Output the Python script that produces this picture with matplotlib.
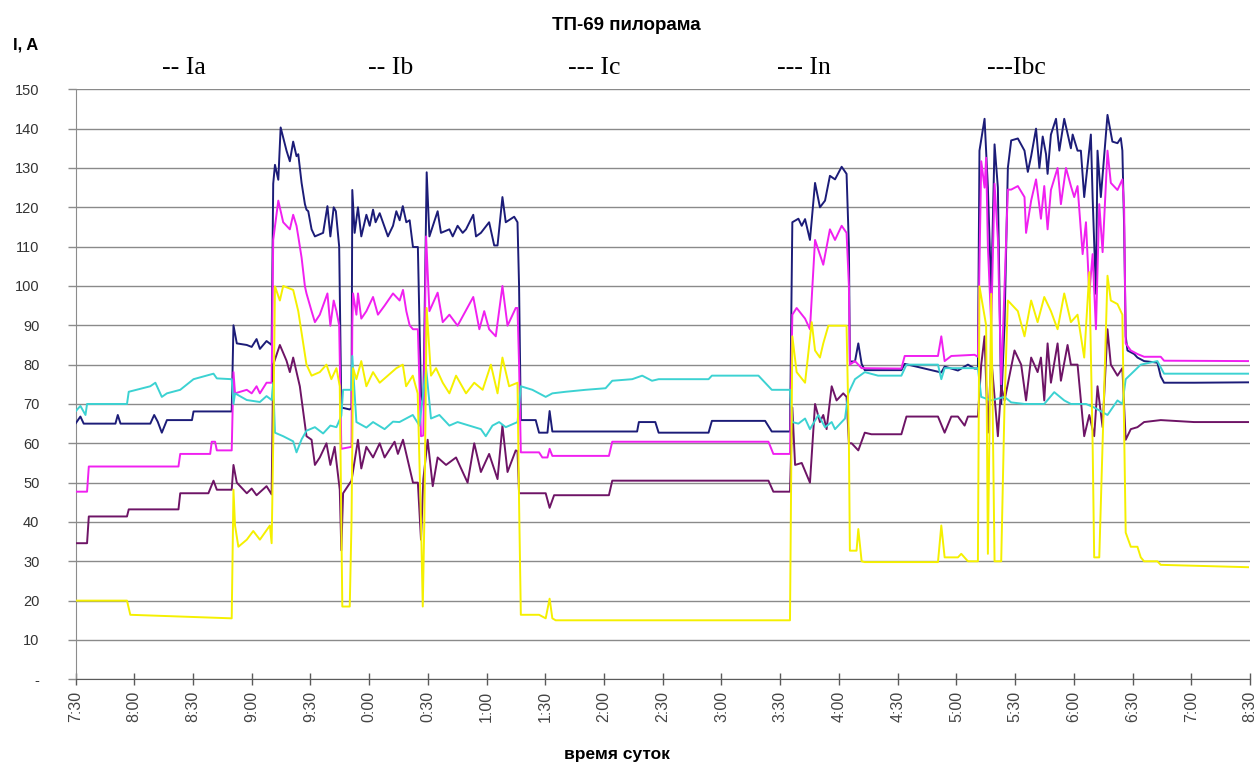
import matplotlib
matplotlib.use("Agg")
import matplotlib.pyplot as plt
from matplotlib.transforms import Bbox, TransformedBbox

# time in minutes after 7:30, current in A

t_ia = [0, 2.5, 4.2, 20.4, 21.6, 23, 38.2, 40.2, 42, 44.1, 46.7, 59.5, 60.3, 79.8, 80.7, 82.4, 87.5, 90, 92.5, 94.2,
        97.6, 100.2, 101, 101.9, 103.6, 104.8, 107.8, 109.5, 111.2, 112.9, 113.8, 115.5, 117.2, 118, 118.9, 120.6,
        122.3, 126.5, 128.7, 130.2, 131.9, 133, 134.7, 135.8, 140.1, 141, 141.4, 142.6, 144.3, 146, 148.6, 150.3,
        152, 153.3, 155.4, 159.6, 162.2, 163.9, 165.6, 167.2, 169, 170.7, 172.4, 174.9, 176.5, 177.7, 179.4, 180.8,
        185, 186.7, 191, 192.7, 195.2, 197.8, 199.5, 203.2, 204.6, 207.1, 211.3, 213.9, 215.6, 218.1, 219.8, 224.1,
        225.8, 226.6, 227.5, 235.1, 236.8, 241.1, 242.2, 243.6, 286.9, 287.8, 296.2, 297.9, 323.4, 325.1, 352.3,
        355.7, 365, 366.2, 369.3, 371, 372.7, 375.2, 377.8, 380.3, 382.9, 385.4, 388, 391.4, 393.9, 395.1, 395.6,
        398.2, 399.9, 401.6, 403.2, 421.9, 423.6, 442.3, 444, 450.8, 455.9, 459.3, 461, 461.8, 464.4, 466.1, 467.8,
        469.5, 471.2, 472.9, 474.6, 476.3, 478, 481.4, 484.8, 486.5, 488.2, 490.7, 492.4, 494.1, 495.8, 496.6,
        498.3, 500.9, 502.6, 505.1, 508.5, 509.4, 511.9, 513.6, 515.3, 518.7, 519.6, 521.3, 522.1, 523.8, 527.2,
        529.7, 532.3, 534, 534.8, 535.7, 536.5, 537.4, 540.8, 542.5, 545.9, 552.7, 554.4, 556.1, 571.4, 599]
ia = [65, 66.8, 65, 65, 67.2, 65, 65, 67.2, 65.5, 62.7, 65.9, 65.9, 68.1, 68.1, 90, 85.4, 85, 84.5, 86.5, 84,
      86, 85, 126, 130.8, 127, 140.3, 134.4, 131.7, 136.7, 133, 133.5, 126.2, 120.8, 119.4, 119, 114.4,
      112.6, 113.5, 120.3, 112.6, 120, 119, 110, 69.1, 68.6, 69, 124.4, 113.5, 120, 112.6, 118.1, 115.3,
      119.4, 116.2, 118.5, 112.6, 115.3, 119, 116.7, 120.3, 116.2, 116.7, 109.9, 109.9, 72, 70, 128.9, 112.6,
      119, 113.5, 114.4, 112.6, 115.3, 113.5, 114.4, 118.1, 112.6, 113.5, 116.2, 110.3, 110.3, 122.6, 116.2, 117.6,
      116.2, 100, 65.9, 65.9, 62.7, 62.7, 68.2, 63, 63, 65.4, 65.4, 62.7, 62.7, 65.7, 65.7,
      63, 63, 116.2, 117.1, 115.3, 117, 111.7, 126.2, 120, 121.7, 128, 127.1, 130.3, 128.5, 110, 80.8,
      80.8, 85.4, 80.2, 78.6, 78.6, 80.2, 78, 79.5, 78.5, 80, 79, 79, 134.4, 142.5, 125, 98,
      136, 125, 70, 90, 130, 137, 137.5, 134.4, 129, 133, 140, 130, 138, 133.5, 128.5,
      138.5, 142.5, 134.4, 142.5, 135, 138.5, 134.4, 134.4, 122.6, 138.5, 122.6, 98, 134.4, 122.6, 143.5,
      136.7, 136.3, 137.6, 134.4, 115, 87.2, 83.6, 82.7, 81.8, 80.9, 80.5, 77, 75.4, 75.4, 75.5]

t_ib = [0, 5.9, 6.8, 52.6, 53.5, 68.8, 69.6, 71.3, 72.2, 79.8, 80.7, 81.5, 87.5, 90, 92.5, 94.2, 97.6, 100.2, 101,
        103.6, 106.1, 109.5, 111.2, 112.9, 113.8, 115.5, 117.2, 118, 120.6, 122.3, 124.8, 128.7, 130.2, 131.9, 133.3,
        134.7, 135.8, 141, 141.4, 141.8, 143.5, 144.3, 146, 148.6, 152, 154.5, 157.9, 162.2, 165.6, 167.3, 169,
        170.7, 172.4, 174.9, 176.5, 177.7, 179.1, 180.8, 185, 187.6, 191, 195.2, 203.2, 206.3, 208.8, 211.3, 214.7,
        218.1, 220.7, 224.9, 225.8, 226.6, 227.5, 236.8, 238.5, 241.1, 242.2, 243.6, 272.5, 274.2, 354, 356.5, 365,
        366.2, 368.4, 372.7, 375.2, 377.8, 382, 385.4, 388, 391.4, 393.9, 395.1, 395.6, 398.2, 401.6, 421.9, 423.6,
        440.6, 442.3, 444, 447.4, 459.3, 461, 462.7, 464.4, 465.2, 466.1, 467.8, 469.5, 471.2, 472.9, 474.6, 476.3,
        478, 481.4, 484.8, 485.6, 488.2, 490.7, 493.2, 494.9, 496.6, 498.3, 501.7, 503.4, 506, 508.5, 510.2, 511.9,
        514.5, 516.2, 517.9, 519.6, 521.3, 523, 524.7, 527.2, 528.9, 532.3, 534.8, 535.7, 536.5, 539.1, 542.5,
        545.9, 554.4, 556.1, 599]
ib = [47.7, 47.7, 54.1, 54.1, 57.3, 57.3, 60.4, 60.4, 58.2, 58.2, 78.1, 72.7, 73.6, 72.7, 74.5, 72.7, 75.4, 75.4, 111.7,
      121.7, 116.2, 114.4, 118.1, 115.3, 112.6, 107.2, 99.9, 98.1, 93.6, 90.8, 92.7, 98.1, 89.9, 96.3, 93.6,
      90, 58.6, 59.1, 90, 98.1, 92.7, 98.1, 91.7, 93.6, 97.2, 92.7, 95, 98.1, 96.3, 99, 93.6,
      90, 89, 89, 61.8, 62, 112.6, 93.6, 98.3, 90.8, 92.7, 89.9, 97.2, 89, 93.6, 89, 87.2,
      100, 89.9, 94.4, 94.4, 80, 57.7, 57.7, 56.4, 56.4, 58.6, 56.8, 56.8, 60.4, 60.4, 57.3, 57.3,
      92.7, 94.4, 91.7, 89, 111.7, 105.4, 114.4, 111.7, 115.3, 113.5, 100, 80, 80.9, 79.1, 79, 82.2,
      82.2, 87.2, 80.9, 82.2, 82.5, 82, 131.7, 125, 132.6, 110, 90, 126, 112, 75, 100, 124.5,
      124.5, 125.4, 122.6, 113.5, 121.7, 127.1, 117.1, 125.4, 114.4, 124.4, 130, 120.8, 130, 125.4, 122.6, 125.4,
      108.1, 116.2, 98, 108.1, 89, 120.8, 108.6, 134.4, 126.2, 124.4, 127.1, 120, 85.4, 83.6, 82.7,
      82, 82, 81, 80.9]

t_ic = [0, 5.9, 6.8, 26.3, 27.2, 52.6, 53.5, 67.9, 70.5, 72.2, 79.8, 80.7, 82.4, 87.5, 90, 92.5, 97.6, 100.2, 101,
        104.4, 107.8, 109.5, 111.2, 114.6, 118, 120.6, 122.3, 124.8, 128.2, 130.2, 132.4, 135, 135.8, 136.7, 141,
        144.3, 146, 148.6, 152, 155.4, 157.9, 163, 164.7, 167.3, 170.7, 172.4, 174.9, 176.5, 177.7, 179.9, 182.5,
        185, 189.3, 194.4, 200.3, 203.7, 207.1, 211.3, 215.6, 218.1, 220.7, 224.9, 225.8, 226.6, 240.2, 242.2,
        244.5, 272.5, 274.2, 354, 356.5, 365, 366.2, 367.6, 371, 375.2, 377.8, 380.3, 382, 383.7, 386.3, 388.8,
        392.2, 393.9, 395.1, 396.5, 399.9, 403.2, 406.6, 421.9, 424.5, 440.6, 444, 447.4, 450.8, 454.2, 455.9,
        461, 462.7, 464.4, 466.1, 467.8, 471.2, 472.9, 474.6, 479.7, 483.1, 485.6, 488.2, 491.5, 493.2, 494.9,
        496.6, 498.3, 501.7, 503.4, 506.8, 508.5, 511.9, 515.3, 517.9, 520.4, 522.1, 524.7, 527.2, 528.9, 532.3,
        534.8, 536.5, 539.1, 542.5, 545.9, 554.4, 571.4, 599]
ic = [34.6, 34.6, 41.4, 41.4, 43.2, 43.2, 47.3, 47.3, 50.5, 48.2, 48.2, 54.5, 50, 47.3, 48.5, 46.8, 49.1, 47, 80,
      85, 81, 78.1, 81.8, 74.5, 61.8, 60.9, 54.5, 56.4, 60, 54.5, 59.1, 48.2, 32.8, 47.3, 50.5,
      60.9, 53.6, 59.1, 56.4, 60, 56.4, 60.4, 57.3, 60.9, 53.6, 50, 50, 35.5, 50.9, 60.9, 49.1,
      56.4, 54.5, 56.4, 50, 60, 52.7, 57.3, 50.9, 64.5, 52.7, 58.2, 58, 47.3, 47.3, 43.6,
      46.8, 46.8, 50.5, 50.5, 47.7, 47.7, 69.1, 54.5, 55, 50, 70, 65.4, 67.2, 63.6, 74.5, 70.9,
      72.7, 71.8, 60, 60, 58.2, 62.7, 62.3, 62.3, 66.8, 66.8, 62.7, 66.8, 66.8, 64.5, 66.8,
      66.8, 80, 87.2, 62.7, 81.8, 61.8, 74.5, 70.9, 83.6, 80, 70.9, 81.8, 78.1, 81.8, 70.9,
      85.4, 75.4, 85.4, 75.9, 85, 80, 80, 61.8, 67.2, 61.8, 74.5, 64.1, 89, 80, 77.2,
      79.1, 60.9, 63.6, 64.1, 65.4, 65.9, 65.4, 65.4]

t_in = [0, 2.5, 5.1, 5.9, 26.3, 27.2, 38.2, 40.8, 44.1, 46.7, 53.5, 60.3, 70.5, 72.2, 79.8, 80.7, 81.5, 87.5, 94.2,
        97.6, 100.2, 101, 101.9, 106.1, 111.2, 112.9, 115.5, 118, 122.3, 126.5, 130.2, 133.3, 135.8, 136.7, 141,
        141.4, 143.5, 148.6, 152, 157.9, 162.2, 165.5, 172.3, 175.7, 179.1, 181.6, 185.9, 191, 195.2, 207.1, 209.6,
        213, 216.4, 219.8, 225.8, 227.5, 233.4, 236.8, 240.2, 243.6, 250.4, 260.6, 270.8, 274.2, 284.4, 289.5,
        294.5, 297.9, 323.4, 325.1, 348.9, 352.3, 355.7, 365, 366.2, 369.3, 372.7, 375.2, 379.5, 382.9, 386.3, 388,
        393.1, 394.8, 398.2, 403.2, 410, 421.9, 424.5, 440.6, 442.3, 444, 461, 462.7, 467.8, 474.6, 478, 484.8,
        494.9, 500, 505.1, 508.5, 516.2, 520.4, 527.2, 532.3, 534.8, 536.5, 544.2, 552.7, 556.1, 599]
i_n = [68.1, 69.5, 67.2, 70, 70, 73.1, 74.5, 75.4, 71.8, 72.7, 73.6, 76.3, 77.7, 76.5, 76.3, 70, 72.7, 71, 70.5,
       72, 71, 75.4, 62.7, 61.8, 60.5, 57.7, 61, 63.2, 64.1, 62.5, 64.5, 64.1, 67, 73.6, 73.6,
       82.2, 65.4, 64, 65.4, 63.6, 65.5, 65.4, 67.2, 64.5, 79.1, 66.3, 67.2, 64.5, 65.4, 63.6, 61.8,
       64.5, 65.4, 64.1, 65.4, 74.5, 73.6, 72.7, 71.8, 72.7, 73.1, 73.6, 74, 75.9, 76.3, 77.2,
       75.9, 76.3, 76.3, 77.2, 77.2, 75.4, 73.6, 73.6, 65.4, 65, 66.3, 63.6, 67.2, 64.1, 65.4, 63.6,
       66.3, 72.7, 76.3, 78.1, 77.2, 77.2, 80, 80, 76.3, 79.1, 79.1, 71.8, 70.9, 71.8, 70.4, 70,
       70, 73, 70.9, 70, 70, 69.1, 67.2, 70.9, 70, 76.3, 80, 80.9, 77.7, 77.7]

t_ibc = [0, 26.3, 28, 79.8, 80.7, 81.5, 83.2, 87.5, 90.8, 94.2, 99.3, 100.2, 101, 101.9, 104.4, 106.1, 111.2, 113.8,
         118, 120.6, 124.8, 128.2, 130.7, 133.3, 135, 135.8, 136.3, 140.1, 141, 141.8, 143.5, 146, 148.6, 152,
         155.4, 163.9, 167.2, 168.9, 172.3, 174.8, 176.5, 177.4, 178.2, 179.4, 181.6, 184.2, 187.6, 191, 194.4,
         199.5, 203.7, 208, 212.2, 215.6, 218.1, 221.5, 225.8, 226.6, 227.5, 236.8, 240.2, 242.2, 243.6, 245.3,
         365, 366.2, 368.4, 372.7, 376.1, 377.8, 380.3, 382, 384.6, 393.9, 395.1, 395.6, 399, 399.9, 401.6, 403.2,
         440.6, 442.3, 444, 450.8, 452.5, 455.9, 461, 461.8, 465.2, 466.1, 467.8, 469.5, 472.9, 474.6, 476.3,
         481.4, 484.8, 488.2, 491.5, 494.9, 498.3, 501.7, 505.1, 508.5, 511.9, 515.3, 517.9, 519.6, 520.4, 523,
         524.7, 527.2, 528.9, 532.3, 534.8, 536.5, 539.1, 542.5, 544.2, 545.9, 552.7, 554.4, 599]
ibc = [20, 20, 16.4, 15.5, 48.2, 39.1, 33.7, 35.5, 37.7, 35.5, 39.1, 34.6, 60, 99.9, 96.3, 100, 99, 93.6,
       80, 77.2, 78.1, 80, 76.3, 79.1, 74.5, 40, 18.5, 18.5, 40, 79.1, 76.3, 80.9, 74.5, 78.1,
       75.4, 79.1, 80, 74.5, 77.2, 72.7, 40, 18.5, 40, 94.4, 77.2, 79.1, 75.4, 72.7, 77.2,
       72.7, 75.4, 73.6, 80, 72.7, 81.8, 74.5, 75.4, 45, 16.4, 16.4, 15.5, 20.5, 15.5, 15,
       15, 87.2, 78.1, 75.4, 90.8, 83.6, 81.8, 85.4, 89.9, 89.9, 60, 32.7, 32.7, 38.2, 30, 29.8,
       29.8, 39.1, 31, 31, 31.9, 30, 30, 99.9, 90, 31.9, 98, 30, 30, 70, 96.3,
       93.6, 87.2, 96.3, 90.8, 97.2, 93.6, 89, 98.1, 90.8, 92.7, 81.8, 103.5, 60, 31, 31,
       60, 102.6, 96.3, 95.4, 92.7, 37.3, 33.7, 33.7, 31, 30, 30, 29.1, 28.5]

xt_pos = list(range(0, 601, 30))
xt_lab = ['7:30', '8:00', '8:30', '9:00', '9:30', '0:00', '0:30', '1:00', '1:30', '2:00', '2:30',
          '3:00', '3:30', '4:00', '4:30', '5:00', '5:30', '6:00', '6:30', '7:00', '8:30']
yt_pos = list(range(0, 151, 10))
yt_lab = ['-'] + [str(v) for v in yt_pos[1:]]

legend_txt = ['-- Ia', '-- Ib', '--- Ic', '--- In', '---Ibc']

plt.rcParams['font.family'] = ['Liberation Sans', 'DejaVu Sans']

W, H = 1258, 762
fig = plt.figure(figsize=(W / 100, H / 100), dpi=100)
x0, x1, y0, y1 = 75.5, 1250, 679.3, 89.3
ax = fig.add_axes([x0 / W, 1 - y0 / H, (x1 - x0) / W, (y0 - y1) / H])

lw = 1.4
ax.plot(t_ia, ia, color='#1c1c78', lw=lw, zorder=3)
ax.plot(t_ib, ib, color='#f020f0', lw=lw, zorder=3)
ax.plot(t_ic, ic, color='#6e1466', lw=lw, zorder=3)
ax.plot(t_in, i_n, color='#3cd2d2', lw=lw, zorder=3)
ax.plot(t_ibc, ibc, color='#f5f000', lw=lw, zorder=3)

ax.set_xlim(0, 600)
ax.set_ylim(0, 150)
ax.set_yticks(yt_pos, yt_lab)
ax.set_xticks(xt_pos, xt_lab)

for s in ['top', 'right']:
    ax.spines[s].set_visible(False)
ax.spines['left'].set_color('#8c8c8c')
ax.spines['bottom'].set_color('#5a5a5a')
ax.spines['bottom'].set_zorder(4)

ax.yaxis.grid(True, color='#8a8a8a', lw=1.0)
ax.set_axisbelow(True)

ax.tick_params(axis='y', direction='out', length=6, width=1, color='#8c8c8c',
               pad=20, labelsize=10.5, labelcolor='#333333')
ax.tick_params(axis='x', direction='inout', length=9, width=1, color='#5a5a5a',
               pad=4, labelsize=11.5, labelcolor='#444444', labelrotation=90)

# bottom of the time labels is cut off, as on the original
fig.canvas.draw()
clip = TransformedBbox(Bbox([[0, 1 - 723 / H], [1, 1]]), fig.transFigure)
for lab in ax.get_xticklabels():
    lab.set_clip_box(clip)
    lab.set_clip_on(True)

fig.text(626 / W, 1 - 25 / H, 'ТП-69 пилорама', ha='center', va='center',
         fontsize=13.5, fontweight='bold')
fig.text(13 / W, 1 - 45 / H, 'I, A', ha='left', va='center',
         fontsize=12, fontweight='bold')
fig.text(617 / W, 1 - 754 / H, 'время суток', ha='center', va='center',
         fontsize=12.5, fontweight='bold')

leg_x = [162, 368, 568, 777, 987]
for xx, tx in zip(leg_x, legend_txt):
    fig.text(xx / W, 1 - 74 / H, tx, ha='left', va='baseline',
             fontsize=18.5, family=['Liberation Serif', 'DejaVu Serif'])

fig.savefig('out.png', dpi=100)
